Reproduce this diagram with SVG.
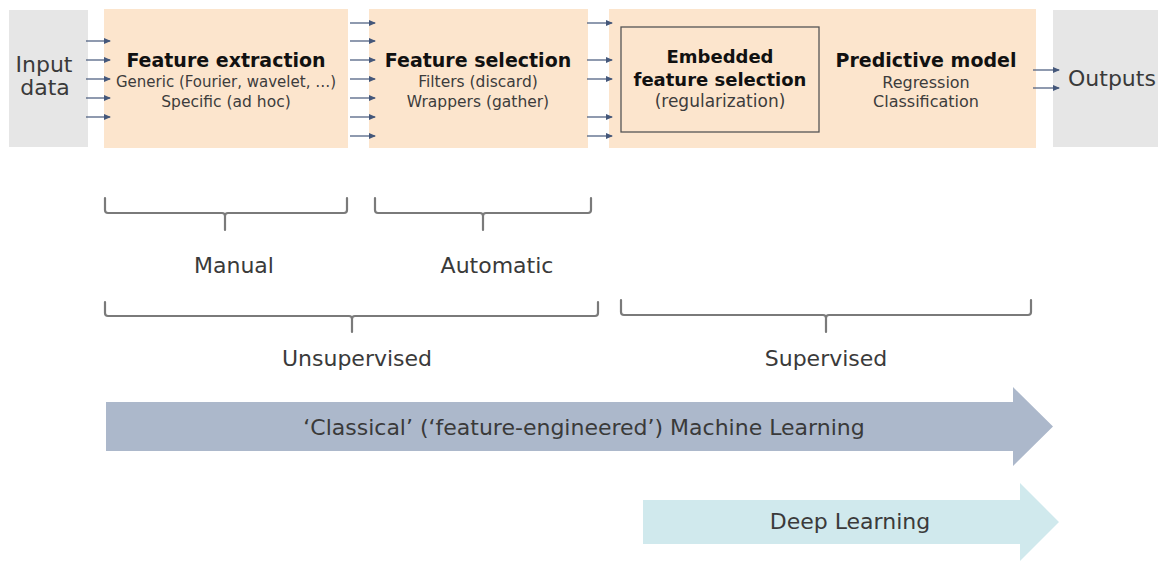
<svg xmlns="http://www.w3.org/2000/svg" width="1158" height="561" viewBox="0 0 1158 561">
  <style>
    text { font-family: "DejaVu Sans", "Noto Sans", sans-serif; }
    .title { font-weight: bold; font-size: 19px; fill: #111; text-anchor: middle; }
    .sub { font-size: 15.5px; fill: #3c3c3c; text-anchor: middle; }
    .lbl { font-size: 22px; fill: #3a3a3a; text-anchor: middle; }
    .stage { fill: #fce5cd; }
    .io { fill: #e6e6e6; }
    .flow line { stroke: #44577a; stroke-width: 1.2; marker-end: url(#tip); }
    .brace { fill: none; stroke: #7a7a7a; stroke-width: 2.2; stroke-linejoin: round; stroke-linecap: round; }
  </style>
  <defs>
    <marker id="tip" markerWidth="7" markerHeight="6" refX="6" refY="3" orient="auto" markerUnits="userSpaceOnUse">
      <path d="M0,0 L7,3 L0,6 Z" fill="#44577a"/>
    </marker>
  </defs>

  <rect width="1158" height="561" fill="#ffffff"/>

  <!-- pipeline nodes -->
  <g id="input-data">
    <rect class="io" x="9" y="10" width="79" height="137"/>
    <text class="lbl" x="44" y="72">Input</text>
    <text class="lbl" x="45" y="95">data</text>
  </g>

  <g id="feature-extraction">
    <rect class="stage" x="104" y="9" width="244" height="139"/>
    <text class="title" x="226" y="67">Feature extraction</text>
    <text class="sub" x="226" y="87" style="font-size:15px">Generic (Fourier, wavelet, …)</text>
    <text class="sub" x="226" y="107">Specific (ad hoc)</text>
  </g>

  <g id="feature-selection">
    <rect class="stage" x="369" y="9" width="219" height="139"/>
    <text class="title" x="478" y="67">Feature selection</text>
    <text class="sub" x="478" y="87">Filters (discard)</text>
    <text class="sub" x="478" y="107">Wrappers (gather)</text>
  </g>

  <g id="predictive-model">
    <rect class="stage" x="609" y="9" width="427" height="139"/>
    <text class="title" x="926" y="67">Predictive model</text>
    <text class="sub" x="926" y="88" style="font-size:16px">Regression</text>
    <text class="sub" x="926" y="107" style="font-size:16px">Classification</text>
  </g>

  <g id="embedded-selection">
    <rect x="621" y="27" width="198" height="105" fill="none" stroke="#555" stroke-width="1.3"/>
    <text class="title" x="720" y="63" style="font-size:18px">Embedded</text>
    <text class="title" x="720" y="86" style="font-size:18px">feature selection</text>
    <text class="sub" x="720" y="107" style="font-size:17px">(regularization)</text>
  </g>

  <g id="outputs">
    <rect class="io" x="1053" y="10" width="105" height="137"/>
    <text class="lbl" x="1068" y="86" style="text-anchor:start">Outputs</text>
  </g>

  <!-- data flow between stages -->
  <g id="connectors" class="flow">
    <line x1="86" y1="41" x2="110" y2="41"/>
    <line x1="86" y1="60" x2="110" y2="60"/>
    <line x1="86" y1="79" x2="110" y2="79"/>
    <line x1="86" y1="98" x2="110" y2="98"/>
    <line x1="86" y1="117" x2="110" y2="117"/>

    <line x1="350" y1="23" x2="375" y2="23"/>
    <line x1="350" y1="41" x2="375" y2="41"/>
    <line x1="350" y1="60" x2="375" y2="60"/>
    <line x1="350" y1="79" x2="375" y2="79"/>
    <line x1="350" y1="98" x2="375" y2="98"/>
    <line x1="350" y1="117" x2="375" y2="117"/>
    <line x1="350" y1="136" x2="375" y2="136"/>

    <line x1="587" y1="23" x2="612" y2="23"/>
    <line x1="587" y1="60" x2="612" y2="60"/>
    <line x1="587" y1="79" x2="612" y2="79"/>
    <line x1="587" y1="117" x2="612" y2="117"/>
    <line x1="587" y1="136" x2="612" y2="136"/>

    <line x1="1033" y1="70" x2="1059" y2="70"/>
    <line x1="1033" y1="88" x2="1059" y2="88"/>
  </g>

  <!-- grouping braces -->
  <g id="brace-manual">
    <path class="brace" d="M105,198 V210 Q105,213 108,213 H222 Q225,213 225,216 V230 M225,216 Q225,213 228,213 H344 Q347,213 347,210 V198"/>
    <text class="lbl" x="234" y="273">Manual</text>
  </g>
  <g id="brace-automatic">
    <path class="brace" d="M375,198 V210 Q375,213 378,213 H480 Q483,213 483,216 V230 M483,216 Q483,213 486,213 H588 Q591,213 591,210 V198"/>
    <text class="lbl" x="497" y="273">Automatic</text>
  </g>
  <g id="brace-unsupervised">
    <path class="brace" d="M105,302 V313 Q105,316 108,316 H349 Q352,316 352,319 V332 M352,319 Q352,316 355,316 H595 Q598,316 598,313 V302"/>
    <text class="lbl" x="357" y="366">Unsupervised</text>
  </g>
  <g id="brace-supervised">
    <path class="brace" d="M621,300 V312 Q621,315 624,315 H823 Q826,315 826,318 V332 M826,318 Q826,315 829,315 H1028 Q1031,315 1031,312 V300"/>
    <text class="lbl" x="826" y="366">Supervised</text>
  </g>

  <!-- scope arrows -->
  <g id="classical-ml">
    <polygon points="106,402 1013,402 1013,387 1053,426.5 1013,466 1013,451 106,451" fill="#acb8cb"/>
    <text class="lbl" x="584" y="435">‘Classical’ (‘feature-engineered’) Machine Learning</text>
  </g>
  <g id="deep-learning">
    <polygon points="643,500 1020,500 1020,483 1059,522 1020,561 1020,544 643,544" fill="#d0e9ed"/>
    <text class="lbl" x="850" y="529">Deep Learning</text>
  </g>
</svg>
